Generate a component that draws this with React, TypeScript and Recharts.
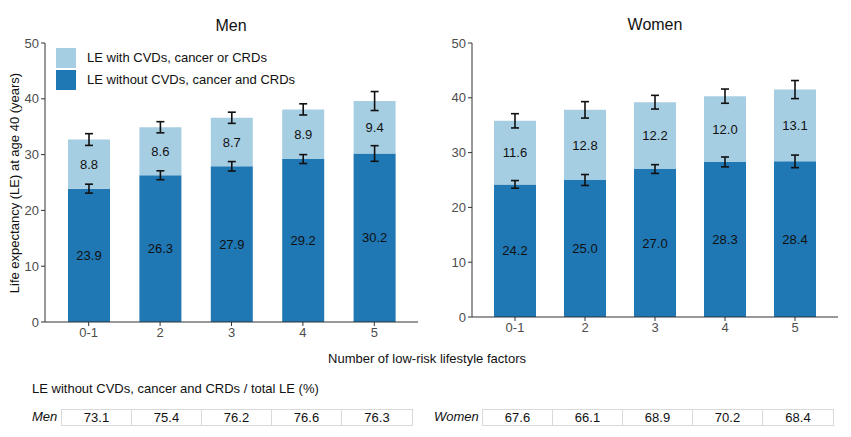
import React from 'react';
import { BarChart, Bar, XAxis, YAxis, ErrorBar, LabelList } from 'recharts';

const categories = ['0-1', '2', '3', '4', '5'];

const menWithout = [23.9, 26.3, 27.9, 29.2, 30.2];
const menWith = [8.8, 8.6, 8.7, 8.9, 9.4];
const menWithoutErr = [0.8, 0.8, 0.85, 0.8, 1.4];
const menTotalErr = [1.05, 1.0, 1.0, 1.0, 1.7];

const womenWithout = [24.2, 25.0, 27.0, 28.3, 28.4];
const womenWith = [11.6, 12.8, 12.2, 12.0, 13.1];
const womenWithoutErr = [0.7, 1.0, 0.8, 0.9, 1.15];
const womenTotalErr = [1.3, 1.5, 1.25, 1.3, 1.65];

const menShare = [73.1, 75.4, 76.2, 76.6, 76.3];
const womenShare = [67.6, 66.1, 68.9, 70.2, 68.4];

const yTicks = [0, 10, 20, 30, 40, 50];

const DARK = '#1F77B4';
const LIGHT = '#A6CEE3';
const FONT = '"Liberation Sans", Arial, sans-serif';

const buildRows = (without: number[], withD: number[], wErr: number[], tErr: number[]) =>
  categories.map((c, i) => ({
    name: c,
    without: without[i],
    with: withD[i],
    withoutErr: wErr[i],
    totalErr: tErr[i],
  }));

const menRows = buildRows(menWithout, menWith, menWithoutErr, menTotalErr);
const womenRows = buildRows(womenWithout, womenWith, womenWithoutErr, womenTotalErr);

const fmt = (v: any) => Number(v).toFixed(1);

type PanelProps = {
  rows: any[];
  left: number;
  width: number;
  yAxisWidth: number;
  rightMargin: number;
  bottomMargin: number;
  pad: number;
};

function Panel({ rows, left, width, yAxisWidth, rightMargin, bottomMargin, pad }: PanelProps) {
  const tick = { fill: '#4D4D4D', fontSize: 13, fontFamily: FONT };
  return (
    <div style={{ position: 'absolute', left, top: 0 }}>
      <BarChart
        width={width}
        height={345}
        data={rows}
        margin={{ top: 43, right: rightMargin, left: 0, bottom: bottomMargin }}
        barSize={42}
      >
        <XAxis
          dataKey="name"
          tick={tick}
          tickSize={4}
          tickMargin={2}
          height={20}
          stroke="#333333"
          padding={{ left: pad, right: pad }}
        />
        <YAxis
          domain={[0, 50]}
          ticks={yTicks}
          tick={tick}
          tickSize={4}
          tickMargin={2}
          width={yAxisWidth}
          stroke="#333333"
          allowDataOverflow
        />
        <Bar dataKey="without" stackId="le" fill={DARK} isAnimationActive={false}>
          <LabelList dataKey="without" position="center" formatter={fmt} fill="#111" fontSize={13} fontFamily={FONT} />
          <ErrorBar dataKey="withoutErr" width={4} stroke="#111" strokeWidth={1.6} direction="y" isAnimationActive={false} />
        </Bar>
        <Bar dataKey="with" stackId="le" fill={LIGHT} isAnimationActive={false}>
          <LabelList dataKey="with" position="center" formatter={fmt} fill="#111" fontSize={13} fontFamily={FONT} />
          <ErrorBar dataKey="totalErr" width={4} stroke="#111" strokeWidth={1.6} direction="y" isAnimationActive={false} />
        </Bar>
      </BarChart>
    </div>
  );
}

function ShareRow({ label, values, left, labelLeft }: { label: string; values: number[]; left: number; labelLeft: number }) {
  return (
    <>
      <div style={{ position: 'absolute', left: labelLeft, top: 409, height: 16, lineHeight: '16px', fontStyle: 'italic', fontSize: 13 }}>
        {label}
      </div>
      <div style={{ position: 'absolute', left, top: 409, display: 'flex', border: '1px solid #D9D9D9', boxSizing: 'border-box', height: 17 }}>
        {values.map((v, i) => (
          <div
            key={i}
            style={{
              width: i === values.length - 1 ? 70 : 69,
              borderLeft: i === 0 ? 'none' : '1px solid #D9D9D9',
              textAlign: 'center',
              lineHeight: '15px',
              fontSize: 13,
            }}
          >
            {v.toFixed(1)}
          </div>
        ))}
      </div>
    </>
  );
}

export default function App() {
  return (
    <div style={{ position: 'absolute', left: 0, top: 0, width: 851, height: 437, background: '#fff', fontFamily: FONT, color: '#111', overflow: 'hidden' }}>
      <Panel rows={menRows} left={0} width={425} yAxisWidth={45} rightMargin={7} bottomMargin={3} pad={8} />
      <Panel rows={womenRows} left={425} width={426} yAxisWidth={47} rightMargin={13} bottomMargin={8} pad={8} />

      <div style={{ position: 'absolute', left: 181, width: 100, top: 17, textAlign: 'center', fontSize: 16 }}>Men</div>
      <div style={{ position: 'absolute', left: 605, width: 100, top: 16, textAlign: 'center', fontSize: 16 }}>Women</div>

      <div
        style={{
          position: 'absolute',
          left: 15,
          top: 183,
          width: 300,
          marginLeft: -150,
          textAlign: 'center',
          fontSize: 13,
          lineHeight: '16px',
          marginTop: -8,
          transform: 'rotate(-90deg)',
        }}
      >
        Life expectancy (LE) at age 40 (years)
      </div>

      <div style={{ position: 'absolute', left: 56, top: 47 }}>
        {[
          { color: LIGHT, text: 'LE with CVDs, cancer or CRDs' },
          { color: DARK, text: 'LE without CVDs, cancer and CRDs' },
        ].map((item) => (
          <div key={item.text} style={{ display: 'flex', alignItems: 'center', height: 21, marginBottom: 1 }}>
            <div style={{ width: 20, height: 20, background: item.color }} />
            <span style={{ marginLeft: 11, fontSize: 13 }}>{item.text}</span>
          </div>
        ))}
      </div>

      <div style={{ position: 'absolute', left: 227, width: 400, top: 351, textAlign: 'center', fontSize: 13 }}>
        Number of low-risk lifestyle factors
      </div>

      <div style={{ position: 'absolute', left: 32, top: 381, fontSize: 13 }}>
        LE without CVDs, cancer and CRDs / total LE (%)
      </div>

      <ShareRow label="Men" values={menShare} left={61} labelLeft={32} />
      <ShareRow label="Women" values={womenShare} left={482} labelLeft={434} />
    </div>
  );
}
